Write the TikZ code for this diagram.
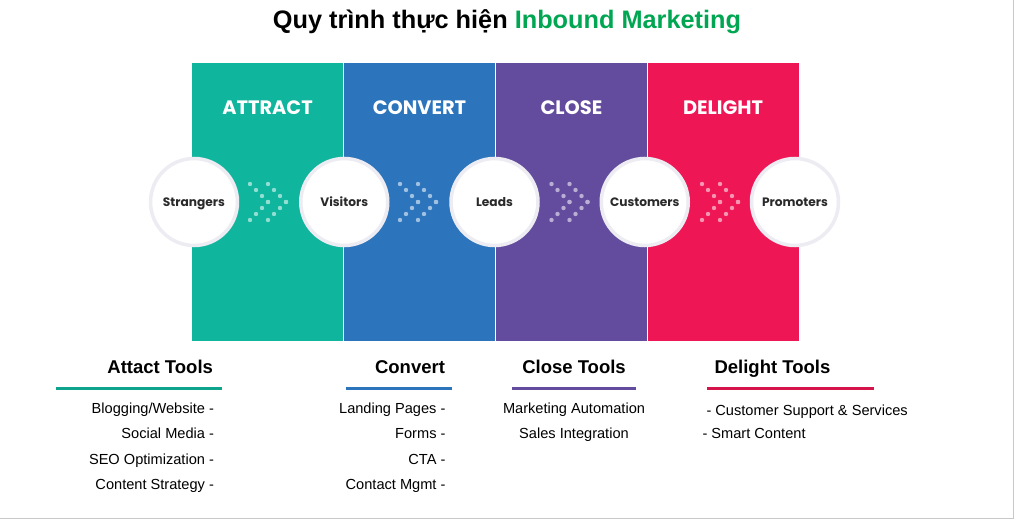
\documentclass[tikz,border=0pt]{standalone}
\usepackage{fontspec}
\setmainfont{Liberation Sans}
\newfontfamily\popfont{Poppins}
\usetikzlibrary{positioning}
\definecolor{attractc}{HTML}{10B59D}
\definecolor{convertc}{HTML}{2C74BC}
\definecolor{closec}{HTML}{634C9E}
\definecolor{delightc}{HTML}{EE1654}
\definecolor{titlegreen}{HTML}{00A651}
\definecolor{ringgray}{HTML}{ECECF2}
\definecolor{textgray}{HTML}{2A2A2A}
\definecolor{framegray}{HTML}{C8C8C8}

\begin{document}
\begin{tikzpicture}[x=1pt,y=-1pt,node distance=150.25pt,on grid,
    band/.style={fill=#1,minimum width=151pt,minimum height=278pt,inner sep=0pt},
    bandtitle/.style={text=white,font=\popfont\bfseries\fontsize{19.4}{22}\selectfont},
    stage/.style={circle,draw=ringgray,line width=3.5pt,fill=white,minimum size=87pt,
        inner sep=0pt,text height=8.6pt,text depth=0pt,text=textgray,
        font=\popfont\bfseries\fontsize{12.2}{14}\selectfont},
    toolhead/.style={text height=13.3pt,text depth=3.9pt,
        font=\bfseries\fontsize{18.5}{21}\selectfont},
    tool/.style={text height=10.5pt,text depth=3.1pt,font=\fontsize{14.6}{17}\selectfont},
    toolrule/.style={line width=3pt,draw=#1}]
    \useasboundingbox (0,0) rectangle (1016,521);
    \draw[framegray] (1013,0) -- (1013,518) -- (0,518);

    % title
    \node[font=\bfseries\fontsize{25.3}{29}\selectfont] (title) at (507,22)
        {Quy trình thực hiện \textcolor{titlegreen}{Inbound Marketing}};

    % coloured bands
    \node[band=attractc] (attract) at (267.5,202) {};
    \node[band=convertc] (convert) [right=152pt of attract] {};
    \node[band=closec] (close) [right=152pt of convert] {};
    \node[band=delightc] (delight) [right=151.5pt of close] {};
    \foreach \b/\t in {attract/ATTRACT,convert/CONVERT,close/CLOSE,delight/DELIGHT}
        \node[bandtitle] (\b-title) at ([yshift=-45pt]\b.north) {\t};

    % double chevrons of dots
    \foreach \m/\c in {268/attractc,418/convertc,569.5/closec,720/delightc}
        \foreach \t in {0,18}
            \foreach \j in {0,...,3} {
                \fill[\c!45!white] (\m+\t-6*\j,202-6*\j) circle (2.2pt);
                \fill[\c!45!white] (\m+\t-6*\j,202+6*\j) circle (2.2pt);
            }

    % stages
    \node[stage] (strangers) at (194,202) {Strangers};
    \node[stage] (visitors) [right=of strangers] {Visitors};
    \node[stage] (leads) [right=of visitors] {Leads};
    \node[stage] (customers) [right=of leads] {Customers};
    \node[stage] (promoters) [right=of customers] {Promoters};

    % tools
    \node[toolhead,anchor=east] (attract-tools) at (216.5,369) {Attact Tools};
    \draw[toolrule=attractc!90!black] (56,388) -- (222,388);
    \node[tool,anchor=east] (blogging) at (217.5,410) {Blogging/Website -};
    \node[tool,anchor=east] (social) at (217.5,435) {Social Media -};
    \node[tool,anchor=east] (seo) at (217.5,461) {SEO Optimization -};
    \node[tool,anchor=east] (content) at (217.5,486) {Content Strategy -};

    \node[toolhead,anchor=east] (convert-tools) at (448.5,369) {Convert};
    \draw[toolrule=convertc] (346,388) -- (452,388);
    \node[tool,anchor=east] (landing) at (449,410) {Landing Pages -};
    \node[tool,anchor=east] (forms) at (449,435) {Forms -};
    \node[tool,anchor=east] (cta) at (449,461) {CTA -};
    \node[tool,anchor=east] (contact) at (449,486) {Contact Mgmt -};

    \node[toolhead] (close-tools) at (574,369) {Close Tools};
    \draw[toolrule=closec] (512,388) -- (636,388);
    \node[tool] (automation) at (574,410) {Marketing Automation};
    \node[tool] (sales) at (574,435) {Sales Integration};

    \node[toolhead,anchor=west] (delight-tools) at (711,369) {Delight Tools};
    \draw[toolrule=delightc!90!black] (707,388) -- (874,388);
    \node[tool,anchor=west] (support) at (703,412) {- Customer Support \& Services};
    \node[tool,anchor=west] (smart) at (699,435) {- Smart Content};
\end{tikzpicture}
\end{document}
